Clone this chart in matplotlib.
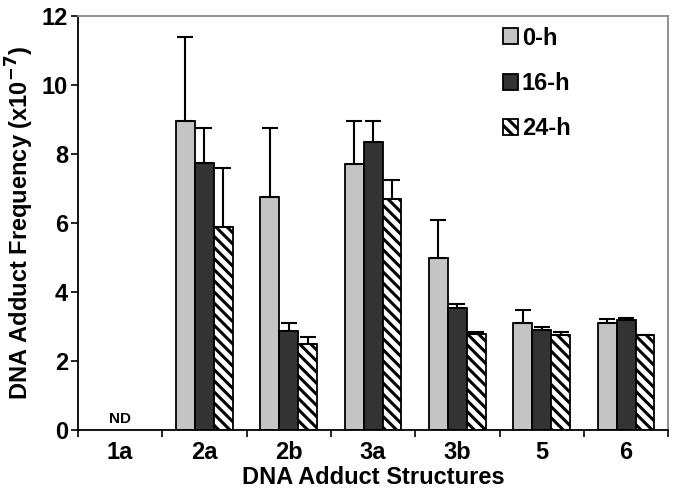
from matplotlib import pyplot as plt
import numpy as np

# -----------------------------------------------------------------------------
# Data

structures = ['1a', '2a', '2b', '3a', '3b', '5', '6']
series_names = ['0-h', '16-h', '24-h']

freq_0h = [0, 8.95, 6.75, 7.72, 4.98, 3.1, 3.1]
freq_16h = [0, 7.75, 2.88, 8.35, 3.55, 2.9, 3.2]
freq_24h = [0, 5.9, 2.5, 6.7, 2.78, 2.77, 2.75]

err_0h = [0, 2.45, 2.0, 1.25, 1.12, 0.38, 0.12]
err_16h = [0, 1.0, 0.22, 0.6, 0.1, 0.1, 0.06]
err_24h = [0, 1.7, 0.2, 0.55, 0.07, 0.07, 0.0]

# -----------------------------------------------------------------------------

plt.rcParams['font.family'] = ['Liberation Sans', 'DejaVu Sans']
plt.rcParams['font.weight'] = 'bold'
plt.rcParams['mathtext.default'] = 'bf'
plt.rcParams['hatch.linewidth'] = 2.2

figure = plt.figure(figsize=(6.77, 4.9), dpi=100)
ax = figure.add_axes([0.115, 0.122, 0.872, 0.845])

x = np.arange(len(structures))
width = 0.225
values = [freq_0h, freq_16h, freq_24h]
errors = [err_0h, err_16h, err_24h]
colors = ['#c4c4c4', '#333333', 'white']
hatches = [None, None, '\\\\\\']

for i, (vals, errs) in enumerate(zip(values, errors)):
    pos = x[1:] + (i - 1) * width
    ax.bar(pos, vals[1:], width, color=colors[i], edgecolor='black',
           linewidth=1.3, hatch=hatches[i], label=series_names[i])
    ax.errorbar(pos, vals[1:], yerr=[np.zeros(len(pos)), errs[1:]],
                fmt='none', ecolor='black', elinewidth=1.5, capsize=6,
                capthick=1.5)

ax.text(0, 0.12, 'ND', ha='center', va='bottom', fontsize=11,
        fontweight='bold')

ax.set_xlim(-0.5, len(structures) - 0.5)
ax.set_ylim(0, 12)
ax.set_yticks(range(0, 13, 2))
ax.set_xticks(x)
ax.set_xticklabels(structures, fontsize=17, fontweight='bold')
ax.set_xticks(np.arange(-0.5, len(structures), 1), minor=True)
ax.tick_params(axis='x', which='major', length=0, pad=8)
ax.tick_params(axis='x', which='minor', length=5, direction='out',
               width=1.2)
ax.tick_params(axis='y', labelsize=17, length=5, width=1.2, pad=2)
for lab in ax.get_yticklabels():
    lab.set_fontweight('bold')

ax.set_xlabel('DNA Adduct Structures', fontsize=17, fontweight='bold',
              labelpad=1)
ax.set_ylabel(r'DNA Adduct Frequency (x10$^{-7}$)', fontsize=17,
              fontweight='bold', labelpad=4)

for side in ['left', 'bottom']:
    ax.spines[side].set_linewidth(1.3)
for side in ['top', 'right']:
    ax.spines[side].set_color('#888888')
    ax.spines[side].set_linewidth(1.3)

legend = ax.legend(loc='upper left', bbox_to_anchor=(0.72, 0.975),
                   frameon=False, fontsize=17, handlelength=0.65,
                   handleheight=0.65, handletextpad=0.15, labelspacing=0.95,
                   borderpad=0, borderaxespad=0)
for text in legend.get_texts():
    text.set_fontweight('bold')

figure.savefig('out.png', dpi=100)
